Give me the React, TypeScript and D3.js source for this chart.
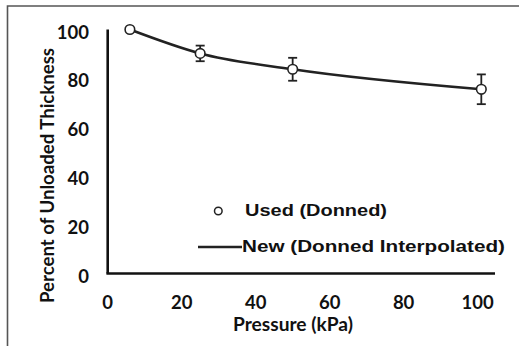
import React, { useEffect } from "react";
import * as d3 from "d3";

const pressure = [6, 25, 50, 101];
const usedPercent = [100, 90.2, 83.7, 75.5];
const usedError = [0, 3.2, 4.7, 6.1];
const newPercent = [100, 90.2, 83.7, 75.5];
const xTicks = [0, 20, 40, 60, 80, 100];
const yTicks = [0, 20, 40, 60, 80, 100];
const legendLabels = ["Used (Donned)", "New (Donned Interpolated)"];
const xTitle = "Pressure (kPa)";
const yTitle = "Percent of Unloaded Thickness";

const W = 519;
const H = 346;

export default function App() {
  useEffect(() => {
    document.body.style.margin = "0";
  }, []);

  const x = d3.scaleLinear().domain([0, 104.7]).range([107.7, 495]);
  const y = d3.scaleLinear().domain([0, 100]).range([273.5, 29.5]);

  const line = d3
    .line<number>()
    .x((_, i) => x(pressure[i]))
    .y((d) => y(d))
    .curve(d3.curveMonotoneX);

  const tickFont = "Lato, 'Open Sans', sans-serif";
  const legendFont = "'Liberation Sans', Arial, sans-serif";

  return (
    <svg
      width={W}
      height={H}
      viewBox={`0 0 ${W} ${H}`}
      style={{ position: "absolute", left: 0, top: 0, background: "#fff" }}
    >
      <rect x={0} y={0} width={W} height={H} fill="#fff" />
      {/* frame */}
      <path d={`M7.5,346 V6 H519`} fill="none" stroke="#555" strokeWidth={1.6} />

      {/* axes */}
      <line x1={x(0)} x2={x(0)} y1={y(100)} y2={y(0)} stroke="#111" strokeWidth={2.6} />
      <line x1={x(0) - 1.3} x2={x(104.7)} y1={y(0)} y2={y(0)} stroke="#111" strokeWidth={2.6} />

      {/* y tick labels */}
      {yTicks.map((t) => (
        <text
          key={"y" + t}
          x={89}
          y={y(t) + 2}
          textAnchor="end"
          dominantBaseline="central"
          fontFamily={tickFont}
          fontWeight={700}
          fontSize={18.5}
          fill="#111"
        >
          {t}
        </text>
      ))}

      {/* x tick labels */}
      {xTicks.map((t) => (
        <text
          key={"x" + t}
          x={x(t)}
          y={308.5}
          textAnchor="middle"
          fontFamily={tickFont}
          fontWeight={700}
          fontSize={18.5}
          fill="#111"
        >
          {t}
        </text>
      ))}

      {/* axis titles */}
      <text
        x={293}
        y={330.5}
        textAnchor="middle"
        fontFamily={tickFont}
        fontWeight={700}
        fontSize={18.5}
        textLength={120}
        lengthAdjust="spacingAndGlyphs"
        fill="#111"
      >
        {xTitle}
      </text>
      <text
        transform={`translate(54,175.5) rotate(-90)`}
        textAnchor="middle"
        fontFamily={tickFont}
        fontWeight={700}
        fontSize={18}
        textLength={255}
        lengthAdjust="spacingAndGlyphs"
        fill="#111"
      >
        {yTitle}
      </text>

      {/* interpolated line */}
      <path d={line(newPercent) || ""} fill="none" stroke="#222" strokeWidth={2.6} />

      {/* error bars */}
      {pressure.map((p, i) =>
        usedError[i] > 0 ? (
          <g key={"e" + i} stroke="#222" strokeWidth={1.8}>
            <line x1={x(p)} x2={x(p)} y1={y(usedPercent[i] + usedError[i])} y2={y(usedPercent[i] - usedError[i])} />
            <line x1={x(p) - 4.5} x2={x(p) + 4.5} y1={y(usedPercent[i] + usedError[i])} y2={y(usedPercent[i] + usedError[i])} />
            <line x1={x(p) - 4.5} x2={x(p) + 4.5} y1={y(usedPercent[i] - usedError[i])} y2={y(usedPercent[i] - usedError[i])} />
          </g>
        ) : null
      )}

      {/* markers */}
      {pressure.map((p, i) => (
        <circle
          key={"m" + i}
          cx={x(p)}
          cy={y(usedPercent[i])}
          r={4.8}
          fill="#fff"
          stroke="#222"
          strokeWidth={1.6}
        />
      ))}

      {/* legend */}
      <circle cx={218.3} cy={211} r={3.8} fill="#fff" stroke="#222" strokeWidth={1.5} />
      <text
        x={245}
        y={215.5}
        fontFamily={legendFont}
        fontWeight={700}
        fontSize={17}
        textLength={142}
        lengthAdjust="spacingAndGlyphs"
        fill="#111"
      >
        {legendLabels[0]}
      </text>
      <line x1={198} x2={242} y1={247} y2={247} stroke="#222" strokeWidth={2.6} />
      <text
        x={242}
        y={252.3}
        fontFamily={legendFont}
        fontWeight={700}
        fontSize={17}
        textLength={263}
        lengthAdjust="spacingAndGlyphs"
        fill="#111"
      >
        {legendLabels[1]}
      </text>
    </svg>
  );
}
